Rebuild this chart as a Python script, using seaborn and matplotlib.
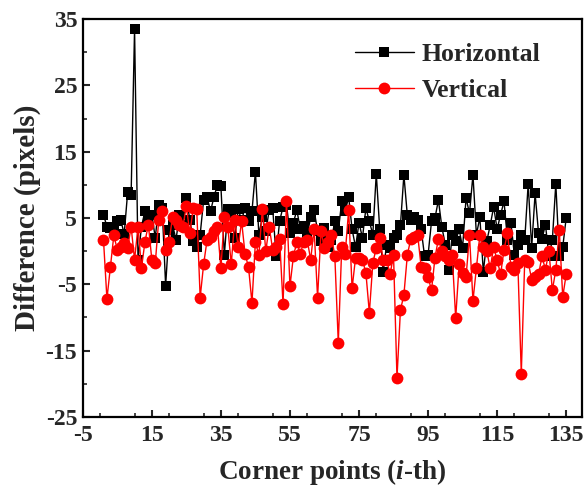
import numpy as np
import pandas as pd
import seaborn as sns
import matplotlib
matplotlib.use('Agg')
import matplotlib.pyplot as plt
from matplotlib.ticker import MultipleLocator

# corner point index
idx = np.arange(1, 136)

horizontal = [
    5.5, 3.7, 3.5, 3.7, 4.5, 4.7, 2.6, 8.9, 8.5, 33.5,
    -1.3, 3.7, 6.0, 5.0, 5.5, 2.0, 7.0, 6.5, -5.2, 3.2,
    4.0, 1.7, 5.5, 4.0, 8.0, 4.7, 1.5, 0.6, 2.5, 7.7,
    8.2, 6.0, 8.2, 10.0, 9.8, -0.6, 6.3, 5.7, 2.0, 6.3,
    4.7, 6.5, 4.5, 6.0, 12.0, 2.5, 5.1, 3.0, 6.2, 6.5,
    -0.8, 4.5, 6.7, 7.0, 2.7, 4.3, 6.2, 3.3, 3.8, 2.5,
    5.1, 6.2, 3.0, 1.5, 3.5, 0.6, 1.7, 4.5, 3.0, 7.5,
    6.0, 8.2, 3.3, 0.6, 4.3, 2.0, 6.5, 4.5, 2.5, 11.7,
    3.3, -3.1, 1.0, 0.5, 2.0, 2.5, 3.9, 11.5, 5.4, 4.7,
    5.1, 4.7, 3.3, -0.8, -0.6, 4.5, 5.0, 7.7, 3.6, 1.0,
    -2.8, 2.5, 1.5, 3.3, 0.5, 8.0, 5.7, 11.5, 2.5, 5.1,
    -3.1, 1.5, 3.9, 6.7, 3.3, 5.5, 7.5, 1.7, 4.3, -0.6,
    1.0, 2.5, 1.7, 10.2, 0.5, 8.7, 2.7, 1.9, 4.0, -0.8,
    1.7, 10.2, -0.8, 0.6, 5.0,
]

vertical = [
    1.7, -7.2, -2.4, 2.4, 0.2, 0.6, 1.2, 0.5, 3.7, -1.3,
    3.7, -2.6, 1.4, 4.0, -1.3, -1.8, 4.7, 6.0, 0.2, 1.4,
    5.2, 4.7, 4.0, 3.7, 6.8, 2.7, 6.5, 6.3, -7.0, -2.0,
    1.7, 2.2, 3.0, 3.7, -2.6, 5.2, 3.7, -2.0, 4.7, 0.6,
    4.5, -0.4, -2.4, -7.8, 1.4,
    -0.6, 6.3, 0.0, 3.7, 0.2, 0.6, 1.9, -8.0, 7.5, -5.3,
    -0.8, 1.4, -0.4, 1.4, 1.7, -1.3, 3.4, -7.0, 3.0, 0.5,
    1.4, 2.4, -0.8, -13.8, 0.6, -0.4, 6.2, -5.6, -1.0, -1.0,
    -1.3, -3.3, -9.3, -1.8, 0.5, 2.0, -1.3, -1.3, -3.5, -0.6,
    -19.1, -8.9, -6.6, -0.6, 1.9,
    2.2, 2.4, -2.4, -2.6, -3.9, -5.9, -1.0, 1.9, 0.0, -0.8,
    -1.3, -0.6, -10.1, -2.0, -3.3, -3.9, 2.4, -7.5, -2.6, 2.4,
    0.6, 0.0, -2.6, 0.6, -1.3, -3.5, 0.2, 2.8, -2.4, -2.8,
    -1.8, -18.5, -1.3, -1.6, -4.3, -3.9, -3.5, -0.8, -2.8, 0.0,
    -5.9, -2.8, 3.2, -6.9, -3.5,
]

x_ticks = [-5, 15, 35, 55, 75, 95, 115, 135]
y_ticks = [-25, -15, -5, 5, 15, 25, 35]

sns.set_style('ticks')
plt.rcParams['font.family'] = ['Liberation Serif', 'DejaVu Serif']
plt.rcParams['font.weight'] = 'bold'
plt.rcParams['axes.unicode_minus'] = False
plt.rcParams['mathtext.fontset'] = 'custom'
plt.rcParams['mathtext.it'] = 'Liberation Serif:italic:bold'
plt.rcParams['mathtext.rm'] = 'Liberation Serif:bold'
plt.rcParams['xtick.direction'] = 'in'
plt.rcParams['ytick.direction'] = 'in'

fig = plt.figure(figsize=(5.87, 4.91), dpi=100)
ax = fig.add_axes([0.141, 0.151, 0.850, 0.810])

sns.lineplot(x=idx, y=horizontal, ax=ax, color='black', linewidth=1,
             marker='s', markersize=7.5, markeredgewidth=0, label='Horizontal')
sns.lineplot(x=idx, y=vertical, ax=ax, color='red', linewidth=1,
             marker='o', markersize=8.5, markeredgewidth=0, label='Vertical')

ax.set_xlim(-5, 139.5)
ax.set_ylim(-25, 35)
ax.set_xticks(x_ticks)
ax.set_yticks(y_ticks)
ax.xaxis.set_minor_locator(MultipleLocator(10))
ax.yaxis.set_minor_locator(MultipleLocator(5))
ax.tick_params(which='major', length=5, width=1.5, labelsize=17)
ax.tick_params(axis='x', which='major', pad=6)
ax.tick_params(axis='y', which='major', pad=4)
ax.tick_params(which='minor', length=3, width=1.2)
for lab in ax.get_xticklabels() + ax.get_yticklabels():
    lab.set_fontweight('bold')
for s in ax.spines.values():
    s.set_linewidth(1.6)
    s.set_color('black')

ax.set_xlabel(r'Corner points ($i$-th)', fontsize=19.5, fontweight='bold', labelpad=8)
ax.set_ylabel('Difference (pixels)', fontsize=21, fontweight='bold', labelpad=3)

leg = ax.legend(loc='upper left', bbox_to_anchor=(0.545, 0.94), frameon=False,
                borderaxespad=0, borderpad=0, fontsize=18.5, handlelength=2.3,
                handletextpad=0.3, labelspacing=0.5)

fig.savefig('out.png', dpi=100)
